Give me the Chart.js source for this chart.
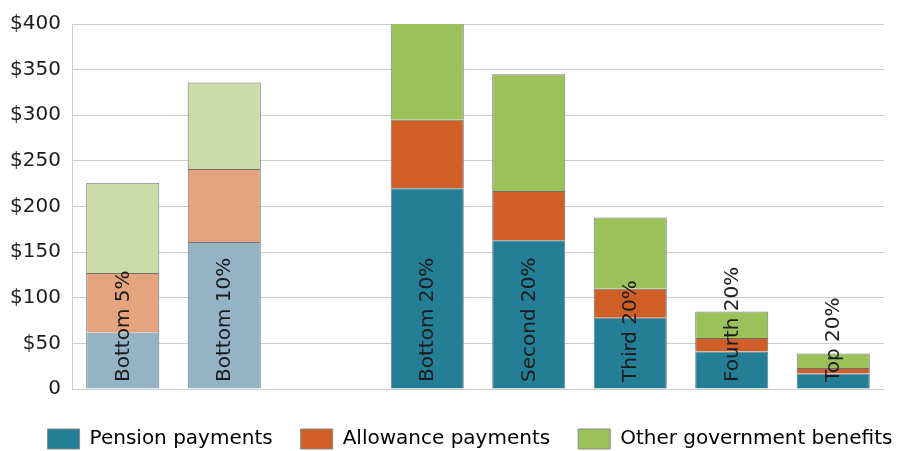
<!DOCTYPE html>
<html>
<head>
<meta charset="utf-8">
<script src="https://cdn.jsdelivr.net/npm/chart.js@4"></script>
<style>
  html, body { margin: 0; padding: 0; background: #fff; }
  #wrap { width: 904px; height: 451px; position: relative; }
</style>
</head>
<body>
<div id="wrap"><canvas id="chart"></canvas></div>
<script>
const categories = ['Bottom 5%', 'Bottom 10%', '', 'Bottom 20%', 'Second 20%', 'Third 20%', 'Fourth 20%', 'Top 20%'];
const pension = [62, 161, null, 220, 163, 78, 41, 17];
const allowance = [65, 80, null, 75, 54, 32, 15, 6];
const other = [99, 95, null, 106, 128, 78, 29, 16];
const yTicks = [0, 50, 100, 150, 200, 250, 300, 350, 400];

const FONT = '"DejaVu Sans", sans-serif';
// first two groups are drawn faded
const faded = [true, true, false, false, false, false, false, false];
const colours = {
    pension: ['#237e96', '#94b3c4'],
    allowance: ['#cf5f27', '#e4a47e'],
    other: ['#9bc25a', '#ccdca8']
};
const pick = key => faded.map(f => f ? colours[key][1] : colours[key][0]);

// draws the rotated group names inside each bar
const barLabels = {
    id: 'barLabels',
    afterDatasetsDraw(chart) {
        const { ctx, scales: { x, y } } = chart;
        ctx.save();
        ctx.font = '20px ' + FONT;
        ctx.fillStyle = '#1c1c1c';
        ctx.textAlign = 'left';
        ctx.textBaseline = 'middle';
        categories.forEach((c, i) => {
            if (!c) return;
            ctx.save();
            ctx.translate(x.getPixelForValue(i) + 1, y.getPixelForValue(0) - 7);
            ctx.rotate(-Math.PI / 2);
            ctx.fillText(c, 0, 0);
            ctx.restore();
        });
        ctx.restore();
    }
};

// nudge the legend a little right and down
const legendShift = {
    id: 'legendShift',
    afterLayout(chart) {
        const lg = chart.legend;
        if (!lg) return;
        lg.left += 18; lg.right += 18;
        lg.top += 8; lg.bottom += 8;
    }
};

new Chart(document.getElementById('chart'), {
    type: 'bar',
    data: {
        labels: categories,
        datasets: [
            { label: 'Pension payments', data: pension, backgroundColor: pick('pension'), borderColor: '#707a80', borderWidth: 1 },
            { label: 'Allowance payments', data: allowance, backgroundColor: pick('allowance'), borderColor: '#6f6f6f', borderWidth: 1 },
            { label: 'Other government benefits', data: other, backgroundColor: pick('other'), borderColor: '#777', borderWidth: 1 }
        ]
    },
    options: {
        responsive: true,
        maintainAspectRatio: false,
        animation: false,
        layout: { padding: { top: 24, right: 0, bottom: 0, left: 0 } },
        datasets: { bar: { categoryPercentage: 0.72, barPercentage: 1 } },
        scales: {
            x: {
                stacked: true,
                grid: { display: false },
                border: { display: false },
                ticks: { display: false },
                afterFit: s => { s.height = 4; }
            },
            y: {
                stacked: true,
                min: 0, max: 400,
                afterBuildTicks: s => { s.ticks = yTicks.map(v => ({ value: v })); },
                afterFit: s => { s.width = 72; },
                grid: { color: '#cccccc', drawTicks: false },
                border: { color: '#cccccc' },
                ticks: {
                    padding: 11,
                    color: '#1c1c1c',
                    font: { family: FONT, size: 20 },
                    callback: v => v === 0 ? '0' : '$' + v
                }
            },
            // empty right-hand strip so the plot stops short of the edge
            yRight: {
                position: 'right',
                grid: { display: false },
                border: { display: false },
                ticks: { display: false },
                afterFit: s => { s.width = 20; }
            }
        },
        plugins: {
            legend: {
                position: 'bottom',
                labels: {
                    boxWidth: 32, boxHeight: 20,
                    padding: 28,
                    color: '#1c1c1c',
                    font: { family: FONT, size: 20 },
                    generateLabels: chart => chart.data.datasets.map((d, i) => ({
                        text: d.label,
                        fillStyle: colours[['pension', 'allowance', 'other'][i]][0],
                        strokeStyle: '#888',
                        lineWidth: 1,
                        datasetIndex: i
                    }))
                }
            },
            tooltip: { enabled: false }
        }
    },
    plugins: [barLabels, legendShift]
});
</script>
</body>
</html>
